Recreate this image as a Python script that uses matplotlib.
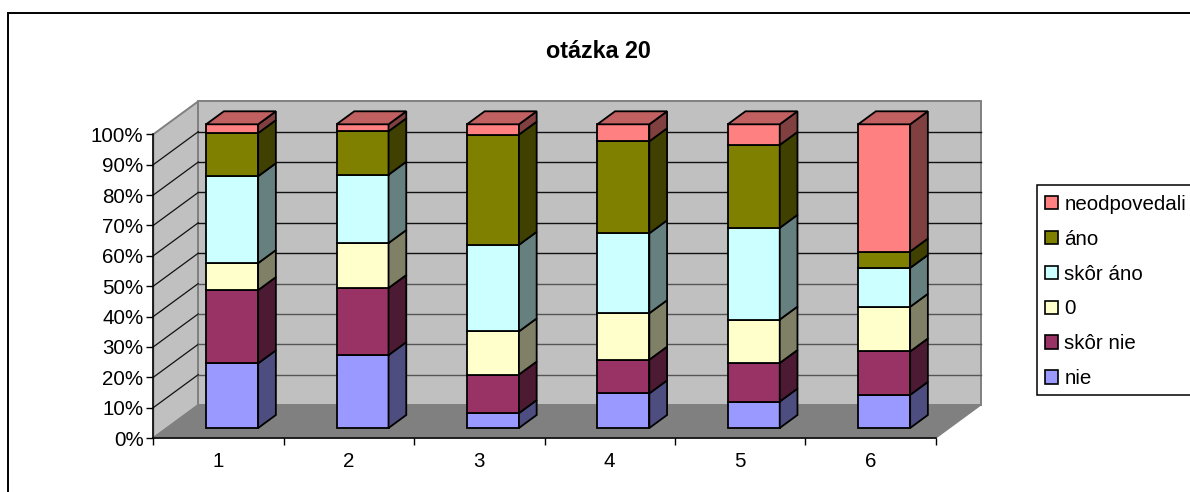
import matplotlib
matplotlib.use("Agg")
import matplotlib.pyplot as plt
from matplotlib.patches import Polygon, Rectangle, Patch

plt.rcParams['font.family'] = ['Liberation Sans', 'DejaVu Sans']

W, H = 1190, 492
categories = ['1', '2', '3', '4', '5', '6']
series_names = ['nie', 'skôr nie', '0', 'skôr áno', 'áno', 'neodpovedali']
nie = [21.3, 24.0, 4.9, 11.4, 8.7, 10.9]
skor_nie = [24.1, 22.1, 12.7, 11.1, 12.7, 14.3]
nula = [8.9, 14.8, 14.2, 15.3, 14.3, 14.7]
skor_ano = [28.6, 22.5, 28.5, 26.3, 30.2, 12.8]
ano = [14.2, 14.3, 36.3, 30.3, 27.3, 5.4]
neodpovedali = [2.9, 2.3, 3.4, 5.6, 6.8, 41.9]
all_series = [nie, skor_nie, nula, skor_ano, ano, neodpovedali]

face = ['#9999FF', '#993366', '#FFFFCC', '#CCFFFF', '#808000', '#FF8080']
side = ['#4D4D80', '#4D1A33', '#808066', '#668080', '#404000', '#804040']
top_col = '#C06060'

fig = plt.figure(figsize=(W / 100, H / 100), dpi=100, facecolor='white')
# outer chart frame: its right and bottom edges fall outside the picture
fig.add_artist(Rectangle((8 / W, 1 - 520 / H), 1300 / W, 507 / H, transform=fig.transFigure,
                         fill=False, ec='black', lw=1.4))
# legend frame: its right edge falls outside the picture
fig.add_artist(Rectangle((1037.3 / W, 1 - 395 / H), 300 / W, 210 / H, transform=fig.transFigure,
                         fc='white', ec='black', lw=1.1))

x0_px, x1_px, y0_px, y1_px = 153.3, 935.7, 438.0, 134.3
ax = fig.add_axes([x0_px / W, 1 - y0_px / H, (x1_px - x0_px) / W, (y0_px - y1_px) / H])
ax.set_xlim(0.5, 6.5)
ax.set_ylim(0, 100)
ax.patch.set_visible(False)

# oblique projection: depth d in 0..1 shifts points right and upward
px_x = (x1_px - x0_px) / 6
px_y = (y0_px - y1_px) / 100
DX = 45.0 / px_x
DY = 33.0 / px_y


def proj(x, y, d):
    return (x + d * DX, y + d * DY)


def poly(pts, **kw):
    ax.add_patch(Polygon(pts, closed=True, clip_on=False, **kw))


xl, xr = 0.5, 6.5
# walls and floor
poly([proj(xl, 0, 0), proj(xl, 100, 0), proj(xl, 100, 1), proj(xl, 0, 1)], fc='#C0C0C0', ec='#808080', lw=1.4, zorder=1)
poly([proj(xl, 0, 1), proj(xl, 100, 1), proj(xr, 100, 1), proj(xr, 0, 1)], fc='#C0C0C0', ec='#808080', lw=1.4, zorder=1)
poly([proj(xl, 0, 0), proj(xr, 0, 0), proj(xr, 0, 1), proj(xl, 0, 1)], fc='#808080', ec='#808080', lw=1, zorder=1.1)

# gridlines on back and side walls
for v in range(10, 100, 10):
    col = '#111111' if v >= 50 else '#555555'
    a, b, c = proj(xl, v, 0), proj(xl, v, 1), proj(xr, v, 1)
    ax.plot([a[0], b[0]], [a[1], b[1]], color='#111111', lw=0.9, zorder=1.2, clip_on=False)
    ax.plot([b[0], c[0]], [b[1], c[1]], color=col, lw=1.0, zorder=1.2, clip_on=False)

# stacked bars
BW = 52.0 / px_x
D1, D2 = 10.0 / 33.0, 23.0 / 33.0
for i, cat in enumerate(categories):
    xc = i + 1
    xa = xc - BW / 2
    xb = xc + BW / 2
    base = 0.0
    for s, vals in enumerate(all_series):
        v = vals[i]
        fa = proj(xa, base, D1)
        ax.bar(fa[0], v, width=BW, bottom=fa[1], align='edge', color=face[s], edgecolor='black',
               linewidth=1.3, zorder=3 + i * 0.01, clip_on=False)
        poly([proj(xb, base, D1), proj(xb, base + v, D1), proj(xb, base + v, D2), proj(xb, base, D2)],
             fc=side[s], ec='black', lw=1.3, zorder=3 + i * 0.01)
        base += v
    poly([proj(xa, base, D1), proj(xb, base, D1), proj(xb, base, D2), proj(xa, base, D2)],
         fc=top_col, ec='black', lw=1.3, zorder=3 + i * 0.01)

# axes
for sp in ('top', 'right'):
    ax.spines[sp].set_visible(False)
for sp in ('left', 'bottom'):
    ax.spines[sp].set_linewidth(1.1)
    ax.spines[sp].set_zorder(2)
ax.set_yticks(range(0, 101, 10))
ax.set_yticklabels([f'{v}%' for v in range(0, 101, 10)], fontsize=14.8)
ax.set_xticks([0.5 + k for k in range(7)])
ax.set_xticklabels([''] * 7)
ax.set_xticks(range(1, 7), labels=categories, minor=True)
ax.tick_params(axis='x', which='major', length=5, width=1.0, direction='out')
ax.tick_params(axis='x', which='minor', length=0, labelsize=14.8, pad=10)
ax.tick_params(axis='y', length=5, width=1.0, pad=2)

fig.text(598 / W, 1 - 52 / H, 'otázka 20', ha='center', va='center', fontsize=16.8, fontweight='bold')

# legend
handles = [Patch(facecolor=face[s], edgecolor='black', linewidth=1.2, label=series_names[s]) for s in range(5, -1, -1)]
leg = fig.legend(handles=handles, loc='upper left', bbox_to_anchor=(1045 / W, 1 - 195 / H),
                 bbox_transform=fig.transFigure, fontsize=14.8, frameon=False, borderpad=0,
                 borderaxespad=0, labelspacing=0.77,
                 handlelength=0.62, handleheight=0.62, handletextpad=0.32)

fig.savefig('out.png', dpi=100)
